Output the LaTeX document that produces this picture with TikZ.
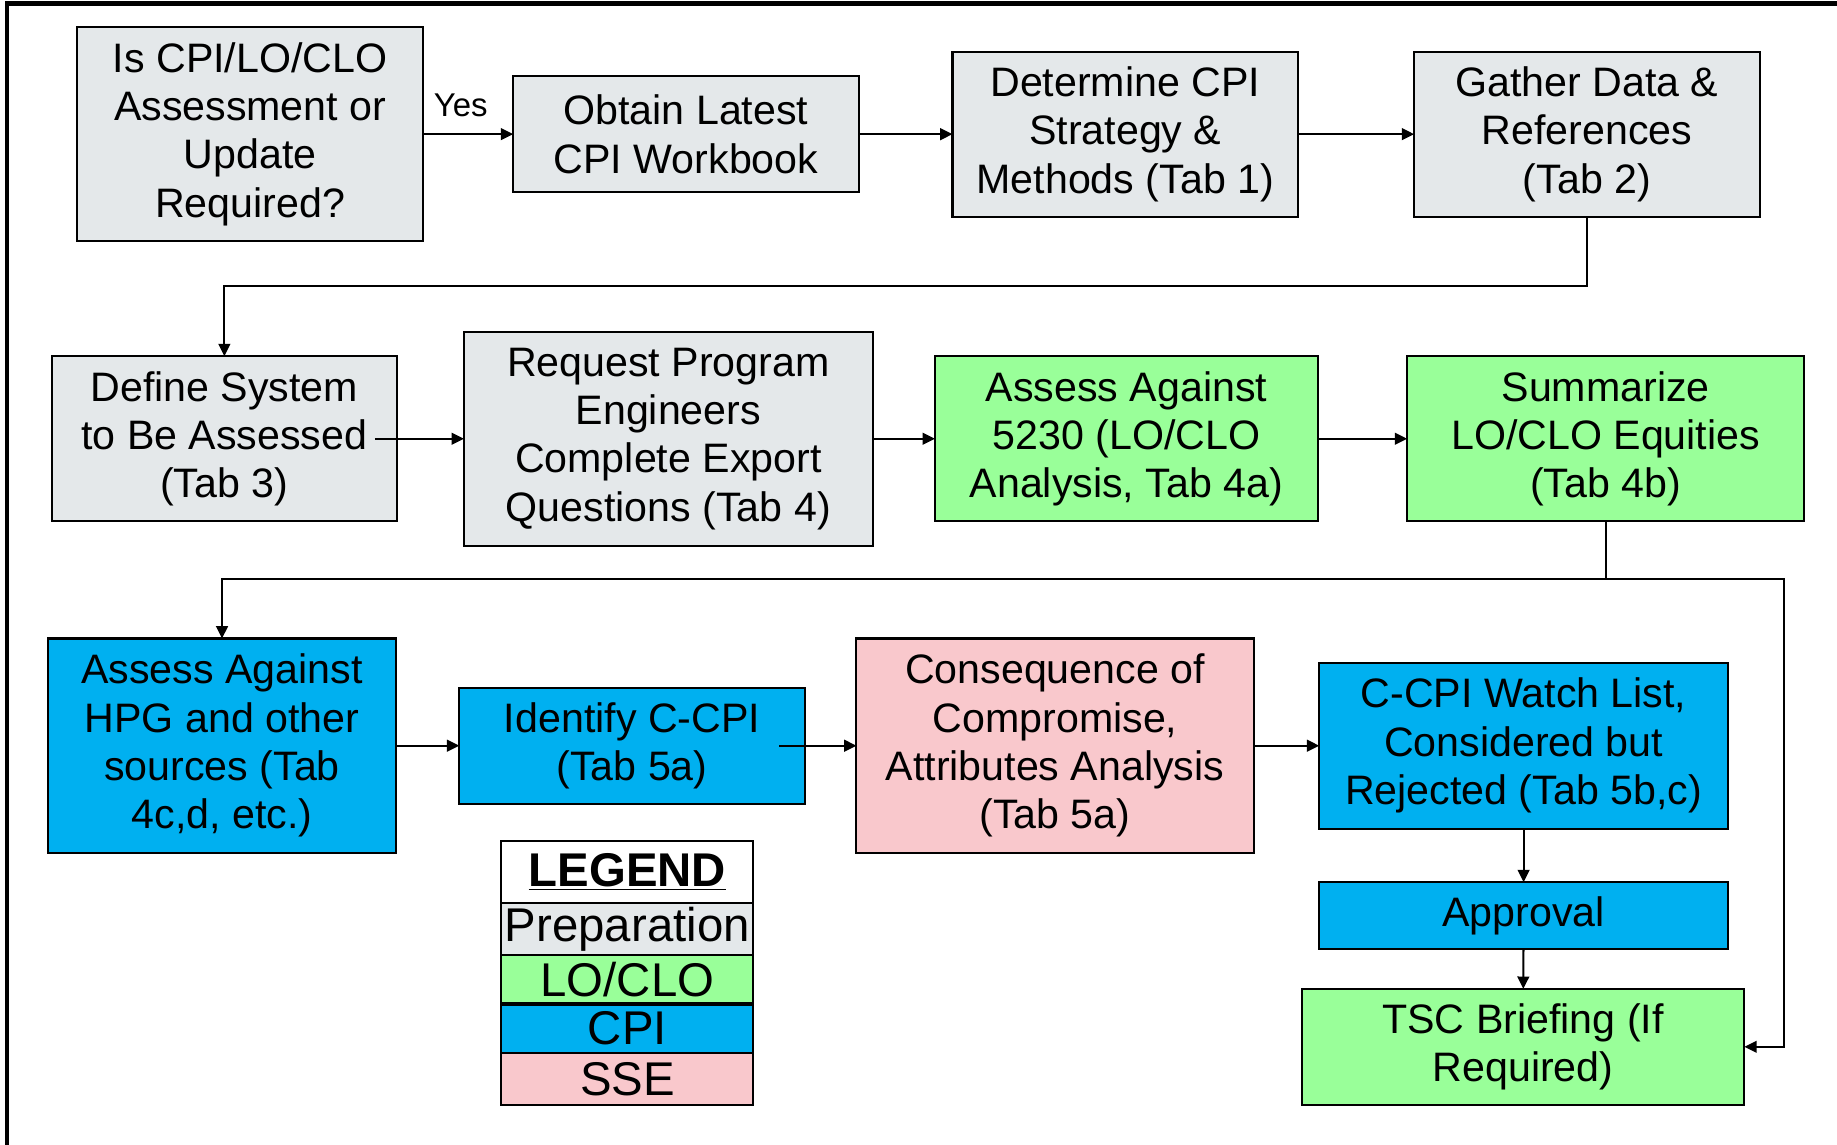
\documentclass[tikz,border=0pt]{standalone}
\usepackage{fontspec}
\setmainfont{Liberation Sans}
\usetikzlibrary{arrows.meta}
\definecolor{prepgray}{RGB}{228,232,234}
\definecolor{logreen}{RGB}{153,255,153}
\definecolor{cpiblue}{RGB}{0,176,240}
\definecolor{ssepink}{RGB}{249,200,204}
\begin{document}
\begin{tikzpicture}[x=0.02cm, y=-0.02cm,
	box/.style={draw=black, line width=1pt, inner sep=0pt, outer sep=0pt, align=center,
		font=\fontsize{20}{23.5}\selectfont},
	prep/.style={box, fill=prepgray},
	lo/.style={box, fill=logreen},
	cpi/.style={box, fill=cpiblue},
	sse/.style={box, fill=ssepink},
	legrow/.style={draw=black, line width=1pt, inner sep=0pt, outer sep=0pt,
		minimum width=4.3cm, font=\fontsize{23}{26}\selectfont},
	arr/.style={draw=black, line width=1pt, -{Triangle[length=0.21cm, width=0.2cm]}}]
	\useasboundingbox (0,0) rectangle (1568,977);
	% Frame
	\draw [black, line width=2pt] (1568,3) -- (6,3) -- (6,977);
	% Row 1
	\node [prep, minimum width=5.9cm, minimum height=3.66cm] (question) at (213.5,114.5) {Is CPI/LO/CLO\\Assessment or\\Update\\Required?};
	\node [prep, minimum width=5.9cm, minimum height=1.98cm] (obtain) at (585.5,114.5) {Obtain Latest\\CPI Workbook};
	\node [prep, minimum width=5.9cm, minimum height=2.82cm] (strategy) at (960.5,114.5) {Determine CPI\\Strategy \&\\Methods (Tab 1)};
	\node [prep, minimum width=5.9cm, minimum height=2.82cm] (gather) at (1354.5,114.5) {Gather Data \&\\References\\(Tab 2)};
	% Row 2
	\node [prep, minimum width=5.9cm, minimum height=2.82cm] (define) at (191.5,374.5) {Define System\\to Be Assessed\\(Tab 3)};
	\node [prep, minimum width=6.98cm, minimum height=3.66cm] (request) at (570.5,374.5) {Request Program\\Engineers\\Complete Export\\Questions (Tab 4)};
	\node [lo, minimum width=6.54cm, minimum height=2.82cm] (assesslo) at (961.5,374.5) {Assess Against\\5230 (LO/CLO\\Analysis, Tab 4a)};
	\node [lo, minimum width=6.78cm, minimum height=2.82cm] (summarize) at (1370.5,374.5) {Summarize\\LO/CLO Equities\\(Tab 4b)};
	% Row 3
	\node [cpi, minimum width=5.94cm, minimum height=3.66cm] (assesshpg) at (189.5,636.5) {Assess Against\\HPG and other\\sources (Tab\\4c,d, etc.)};
	\node [cpi, minimum width=5.9cm, minimum height=1.98cm] (identify) at (539.5,636.5) {Identify C-CPI\\(Tab 5a)};
	\node [sse, minimum width=6.78cm, minimum height=3.66cm] (consequence) at (900.5,636.5) {Consequence of\\Compromise,\\Attributes Analysis\\(Tab 5a)};
	\node [cpi, minimum width=6.98cm, minimum height=2.84cm] (watch) at (1300.5,636.5) {C-CPI Watch List,\\Considered but\\Rejected (Tab 5b,c)};
	\node [cpi, minimum width=6.98cm, minimum height=1.14cm] (approval) at (1300.5,781.5) {Approval};
	\node [lo, minimum width=7.56cm, minimum height=1.98cm] (briefing) at (1300,893.5) {TSC Briefing (If\\Required)};
	% Legend
	\node [legrow, fill=white, minimum height=1.06cm, font=\fontsize{23}{26}\selectfont\bfseries] (legend) at (535.5,744.5) {\underline{LEGEND}};
	\node [legrow, fill=prepgray, minimum height=0.88cm] (legprep) at (535.5,793) {Preparation};
	\node [legrow, fill=logreen, minimum height=0.84cm] (leglo) at (535.5,836) {LO/CLO};
	\node [legrow, fill=cpiblue, minimum height=0.84cm] (legcpi) at (535.5,878) {CPI};
	\node [legrow, fill=ssepink, minimum height=0.88cm] (legsse) at (535.5,921) {SSE};
	\draw [black, line width=2pt] (leglo.south west) -- (leglo.south east);
	% Connectors
	\draw [arr] (question) -- node [pos=0.42, above, inner sep=8pt, font=\fontsize{16}{18}\selectfont] {Yes} (obtain);
	\draw [arr] (obtain) -- (strategy);
	\draw [arr] (strategy) -- (gather);
	\draw [arr] (gather.south) -- ++(0,59) -| (define.north);
	\draw [arr] ([xshift=-0.38cm]define.east) -- (request.west);
	\draw [arr] (request) -- (assesslo);
	\draw [arr] (assesslo) -- (summarize);
	\coordinate (split) at (1370.5,494);
	\coordinate (rightturn) at (1523,494);
	\draw [arr] (summarize.south) -- (split) -| (assesshpg.north);
	\draw [arr] (split) -- (rightturn) |- (briefing.east);
	\draw [arr] (assesshpg) -- (identify);
	\draw [arr] ([xshift=-0.44cm]identify.east) -- (consequence.west);
	\draw [arr] (consequence) -- (watch);
	\draw [arr] (watch) -- (approval);
	\draw [arr] (approval) -- (briefing);
\end{tikzpicture}
\end{document}
